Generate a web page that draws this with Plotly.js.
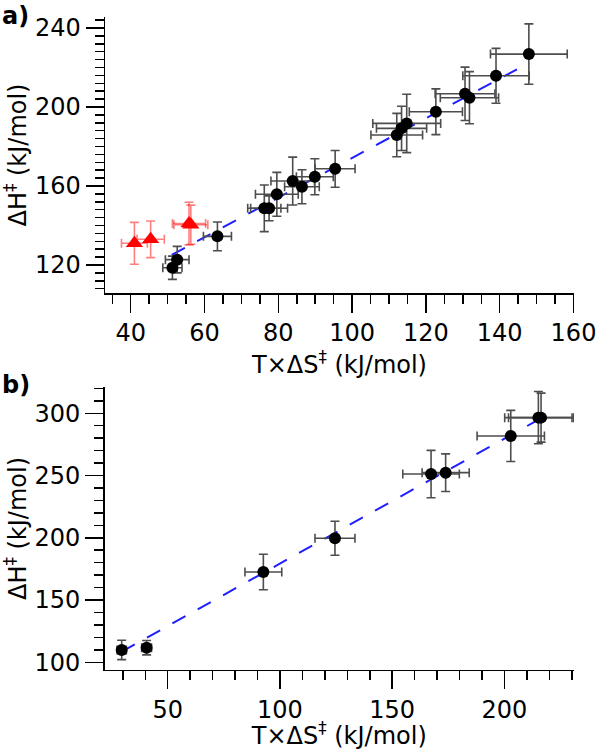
<!DOCTYPE html>
<html>
<head>
<meta charset="utf-8">
<script src="https://cdn.plot.ly/plotly-3.0.1.min.js"></script>
<style>html,body{margin:0;padding:0;background:#fff}#chart{width:600px;height:750px}</style>
</head>
<body>
<div id="chart"></div>
<script>
// ---- Panel a) data ----
const topBlackX    = [51.3, 52.6, 63.5, 76.2, 77.5, 79.6, 83.9, 86.4, 89.9, 95.4, 112.1, 113.4, 114.8, 122.7, 130.6, 131.8, 139.0, 147.9];
const topBlackY    = [118.6, 122.7, 134.5, 148.7, 148.7, 155.8, 162.5, 159.6, 164.7, 168.7, 185.8, 189.2, 191.7, 197.6, 206.7, 204.7, 215.8, 226.8];
const topBlackXErr = [2.6, 3.2, 3.8, 4.5, 5.0, 5.8, 5.9, 4.7, 5.0, 5.4, 7.0, 6.8, 9.2, 7.2, 8.1, 7.9, 9.0, 10.4];
const topBlackYErr = [5.9, 6.7, 7.3, 11.8, 6.3, 11.1, 12.1, 8.6, 9.1, 9.3, 11.0, 11.2, 14.8, 11.6, 13.5, 13.2, 13.9, 15.3];
const topRedX      = [41.0, 45.4, 55.8, 56.3];
const topRedY      = [131.0, 133.0, 141.0, 140.4];
const topRedXErr   = [3.5, 3.7, 4.5, 4.6];
const topRedYErr   = [10.6, 9.3, 10.8, 9.9];
const topFitX      = [51.1, 147.7];
const topFitY      = [125.1, 222.1];

// ---- Panel b) data ----
const botX    = [29.5, 40.6, 92.6, 124.5, 167.3, 173.8, 202.8, 215.1, 216.3];
const botY    = [109.9, 111.7, 172.5, 199.6, 251.2, 252.3, 281.8, 296.5, 296.5];
const botXErr = [2.1, 2.2, 8.2, 8.9, 12.6, 10.5, 15.0, 15.0, 14.5];
const botYErr = [7.8, 5.8, 14.3, 13.7, 19.0, 15.1, 20.5, 21.0, 19.7];
const botFitX = [29.5, 213.6];
const botFitY = [108.5, 293.3];

const xTitle = 'T×ΔS<sup>‡</sup> (kJ/mol)';
const yTitle = 'ΔH<sup>‡</sup> (kJ/mol)';
const panelLabels = ['a)', 'b)'];

const errBlack = {color: '#4d4d4d', thickness: 1.6, width: 4.5};
const errRed = {color: 'rgba(255,0,0,0.5)', thickness: 1.6, width: 4.5};

const traces = [
  {x: topFitX, y: topFitY, xaxis: 'x', yaxis: 'y', mode: 'lines',
   line: {color: '#1f1fff', width: 2, dash: '15px,14px'}, hoverinfo: 'skip'},
  {x: topRedX, y: topRedY, xaxis: 'x', yaxis: 'y', mode: 'markers',
   marker: {symbol: 'triangle-up', size: 15, color: '#ff0000'},
   error_x: Object.assign({type: 'data', array: topRedXErr}, errRed),
   error_y: Object.assign({type: 'data', array: topRedYErr}, errRed)},
  {x: topBlackX, y: topBlackY, xaxis: 'x', yaxis: 'y', mode: 'markers',
   marker: {symbol: 'circle', size: 12, color: '#000000'},
   error_x: Object.assign({type: 'data', array: topBlackXErr}, errBlack),
   error_y: Object.assign({type: 'data', array: topBlackYErr}, errBlack)},
  {x: botFitX, y: botFitY, xaxis: 'x2', yaxis: 'y2', mode: 'lines',
   line: {color: '#1f1fff', width: 2, dash: '15px,14px'}, hoverinfo: 'skip'},
  {x: botX, y: botY, xaxis: 'x2', yaxis: 'y2', mode: 'markers',
   marker: {symbol: 'circle', size: 12, color: '#000000'},
   error_x: Object.assign({type: 'data', array: botXErr}, errBlack),
   error_y: Object.assign({type: 'data', array: botYErr}, errBlack)}
];

const fontFam = 'DejaVu Sans, Liberation Sans, Arial, sans-serif';
function minorTicks(dt) {
  return {ticks: 'outside', ticklen: 9, tickwidth: 1.5, tickcolor: '#000', dtick: dt, tick0: 0, showgrid: false};
}
function axis(extra) {
  return Object.assign({
    showgrid: false, zeroline: false, showline: true, linecolor: '#000', linewidth: 1.5,
    ticks: 'outside', ticklen: 18, tickwidth: 1.5, tickcolor: '#000',
    tickfont: {family: fontFam, size: 24, color: '#000'},
    mirror: false, fixedrange: true
  }, extra);
}
const titleFont = {family: fontFam, size: 24, color: '#000'};

const layout = {
  width: 600, height: 750, margin: {l: 0, r: 0, t: 0, b: 0},
  paper_bgcolor: '#fff', plot_bgcolor: '#fff', showlegend: false,
  font: {family: fontFam, color: '#000'},
  xaxis: axis({domain: [0.175, 0.9567], range: [33.03, 160.14], anchor: 'y',
    tick0: 0, dtick: 20, minor: minorTicks(5),
    title: {text: xTitle, font: titleFont, standoff: 2}}),
  yaxis: axis({domain: [0.6093, 0.9773], range: [105.8, 245.57], anchor: 'x',
    tick0: 0, dtick: 40, minor: minorTicks(4),
    title: {text: yTitle, font: titleFont, standoff: 4}}),
  xaxis2: axis({domain: [0.1742, 0.9567], range: [21.85, 230.98], anchor: 'y2',
    tick0: 0, dtick: 50, minor: minorTicks(10),
    title: {text: xTitle, font: titleFont, standoff: 2}}),
  yaxis2: axis({domain: [0.1067, 0.484], range: [93.8, 321.1], anchor: 'x2',
    tick0: 0, dtick: 50, minor: minorTicks(10),
    title: {text: yTitle, font: titleFont, standoff: 4}}),
  annotations: [
    {text: '<b>' + panelLabels[0] + '</b>', xref: 'paper', yref: 'paper', x: 0, y: 1,
     xanchor: 'left', yanchor: 'top', showarrow: false, font: {family: fontFam, size: 24, color: '#000'}},
    {text: '<b>' + panelLabels[1] + '</b>', xref: 'paper', yref: 'paper', x: 0, y: 0.4867,
     xanchor: 'left', yanchor: 'middle', showarrow: false, font: {family: fontFam, size: 24, color: '#000'}}
  ]
};

Plotly.newPlot('chart', traces, layout, {displayModeBar: false, staticPlot: true});
</script>
</body>
</html>
